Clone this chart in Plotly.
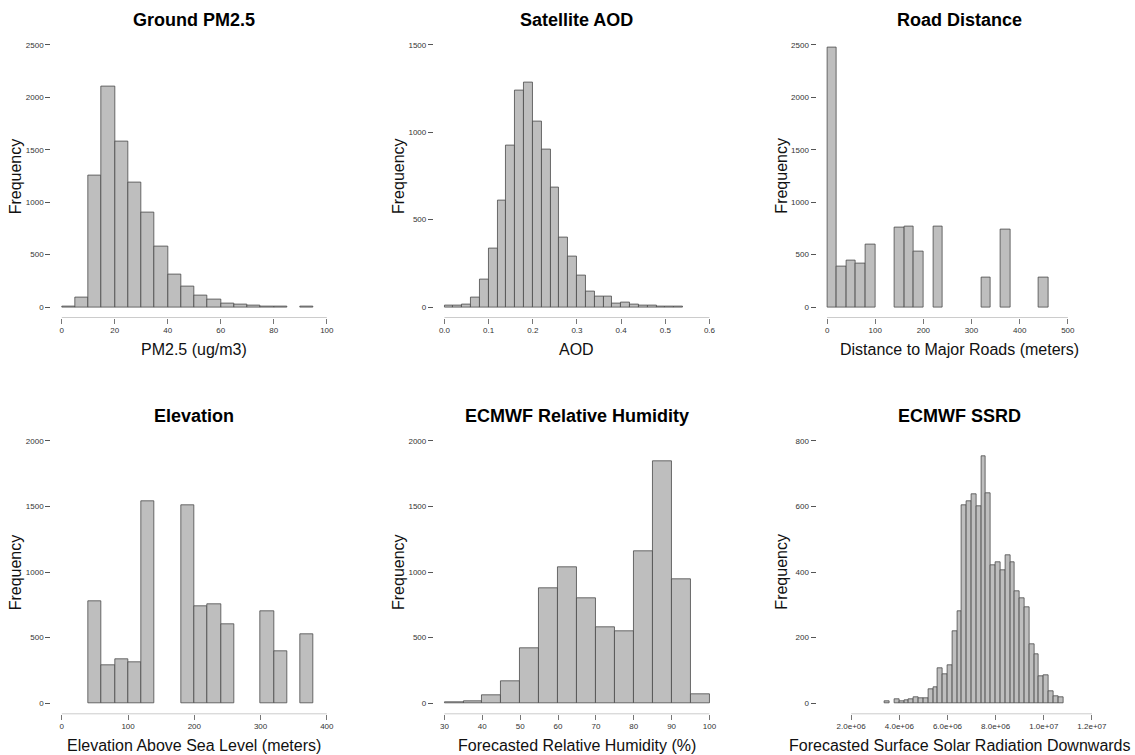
import plotly.graph_objects as go
import numpy as np

# ---------------- data (bin left edges / width / counts) ----------------
pm25_start, pm25_width = 0, 5
pm25_counts = [5, 90, 1258, 2108, 1576, 1185, 904, 575, 309, 197, 108, 68, 30, 20, 10, 5, 5, 0, 5]

aod_start, aod_width = 0.0, 0.02
aod_counts = [6, 10, 13, 57, 156, 333, 608, 926, 1242, 1286, 1061, 903, 682, 400, 290, 179,
              90, 61, 61, 19, 27, 17, 10, 8, 4, 4, 4]

road_start, road_width = 0, 20
road_counts = [2478, 385, 445, 415, 598, 0, 0, 754, 773, 525, 0, 773, 0, 0, 0, 0, 283, 0, 735,
               0, 0, 0, 283]

elev_start, elev_width = 40, 20
elev_counts = [779, 287, 338, 310, 1543, 0, 0, 1510, 736, 756, 601, 0, 0, 698, 396, 0, 528]

rh_start, rh_width = 30, 5
rh_counts = [8, 13, 63, 170, 419, 876, 1036, 797, 576, 551, 1157, 1845, 944, 69]

ssrd_start, ssrd_width = 3.4e6, 2e5
ssrd_counts = [5, 0, 12, 7, 10, 14, 19, 17, 16, 43, 49, 107, 88, 116, 220, 282, 604, 617, 637,
               600, 754, 640, 422, 431, 404, 450, 431, 343, 319, 293, 180, 151, 82, 85, 37, 21, 20]

titles = ["Ground PM2.5", "Satellite AOD", "Road Distance",
          "Elevation", "ECMWF Relative Humidity", "ECMWF SSRD"]
xlabels = ["PM2.5 (ug/m3)", "AOD", "Distance to Major Roads (meters)",
           "Elevation Above Sea Level (meters)", "Forecasted Relative Humidity (%)",
           "Forecasted Surface Solar Radiation Downwards"]

x_ticks = [
    [0, 20, 40, 60, 80, 100],
    [0.0, 0.1, 0.2, 0.3, 0.4, 0.5, 0.6],
    [0, 100, 200, 300, 400, 500],
    [0, 100, 200, 300, 400],
    [30, 40, 50, 60, 70, 80, 90, 100],
    [2e6, 4e6, 6e6, 8e6, 1e7, 1.2e7],
]
x_ticktext = [
    ["0", "20", "40", "60", "80", "100"],
    ["0.0", "0.1", "0.2", "0.3", "0.4", "0.5", "0.6"],
    ["0", "100", "200", "300", "400", "500"],
    ["0", "100", "200", "300", "400"],
    ["30", "40", "50", "60", "70", "80", "90", "100"],
    ["2.0e+06", "4.0e+06", "6.0e+06", "8.0e+06", "1.0e+07", "1.2e+07"],
]
y_ticks = [
    [0, 500, 1000, 1500, 2000, 2500],
    [0, 500, 1000, 1500],
    [0, 500, 1000, 1500, 2000, 2500],
    [0, 500, 1000, 1500, 2000],
    [0, 500, 1000, 1500, 2000],
    [0, 200, 400, 600, 800],
]
# xlim / ylim as in the original R plots (extended by 4% below)
xlims = [(0, 100), (0, 0.6), (0, 550), (0, 400), (30, 100), (1e6, 1.2e7)]
ylims = [(0, 2500), (0, 1500), (0, 2500), (0, 2000), (0, 2000), (0, 800)]

hists = [
    (pm25_start, pm25_width, pm25_counts),
    (aod_start, aod_width, aod_counts),
    (road_start, road_width, road_counts),
    (elev_start, elev_width, elev_counts),
    (rh_start, rh_width, rh_counts),
    (ssrd_start, ssrd_width, ssrd_counts),
]

# ---------------- layout geometry ----------------
W, H = 1135, 755
col_px = [(51.4, 338.6), (435.4, 722.6), (819.4, 1106.4)]
row_px = [(34.5, 317.5), (430.2, 713.8)]

BAR_FILL = "#BEBEBE"
BAR_LINE = "#4a4a4a"
FONT = "Liberation Sans, Arial, sans-serif"

fig = go.Figure()
layout = dict(
    width=W, height=H,
    margin=dict(l=0, r=0, t=0, b=0),
    paper_bgcolor="white", plot_bgcolor="white",
    showlegend=False, bargap=0,
    font=dict(family=FONT, color="#222"),
)
annotations = []
shapes = []

for i in range(6):
    r, c = divmod(i, 3)
    ax = "" if i == 0 else str(i + 1)
    start, width, counts = hists[i]
    counts = np.array(counts, dtype=float)
    lefts = start + width * np.arange(len(counts))
    keep = counts > 0
    fig.add_trace(go.Bar(
        x=lefts[keep] + width / 2, y=counts[keep], width=width,
        marker=dict(color=BAR_FILL, line=dict(color=BAR_LINE, width=0.8)),
        xaxis="x" + ax, yaxis="y" + ax, hoverinfo="x+y",
    ))
    x0, x1 = col_px[c]
    y0, y1 = row_px[r]
    xl, yl = xlims[i], ylims[i]
    dx = (xl[1] - xl[0]) * 0.04
    dy = (yl[1] - yl[0]) * 0.04
    layout["xaxis" + ax] = dict(
        domain=[x0 / W, x1 / W], anchor="y" + ax,
        range=[xl[0] - dx, xl[1] + dx],
        tickvals=x_ticks[i], ticktext=x_ticktext[i],
        ticks="outside", ticklen=5, tickwidth=1, tickcolor="#777",
        showline=False, showgrid=False, zeroline=False,
        tickfont=dict(size=8, color="#333"),
    )
    layout["yaxis" + ax] = dict(
        domain=[1 - y1 / H, 1 - y0 / H], anchor="x" + ax,
        range=[yl[0] - dy, yl[1] + dy],
        tickvals=y_ticks[i], ticktext=[str(v) for v in y_ticks[i]],
        ticks="outside", ticklen=5, tickwidth=1, tickcolor="#555",
        showline=False, showgrid=False, zeroline=False,
        tickfont=dict(size=8, color="#333"),
    )
    # R-style axis line spanning first to last tick
    shapes.append(dict(
        type="line", xref="x" + ax, yref="y" + ax + " domain",
        x0=x_ticks[i][0], x1=x_ticks[i][-1], y0=0, y1=0,
        line=dict(color="#cccccc", width=1),
    ))
    cx = (x0 + x1) / 2
    annotations.append(dict(
        text="<b>" + titles[i] + "</b>", x=cx / W, y=1 - (y0 - 14.5) / H,
        xref="paper", yref="paper", showarrow=False,
        xanchor="center", yanchor="middle",
        font=dict(size=18, color="#000", family=FONT),
    ))
    annotations.append(dict(
        text=xlabels[i], x=cx / W, y=1 - (y1 + 31.5) / H,
        xref="paper", yref="paper", showarrow=False,
        xanchor="center", yanchor="middle",
        font=dict(size=16, color="#111", family=FONT),
    ))
    annotations.append(dict(
        text="Frequency", x=(x0 - 36) / W, y=1 - ((y0 + y1) / 2) / H,
        xref="paper", yref="paper", showarrow=False, textangle=-90,
        xanchor="center", yanchor="middle",
        font=dict(size=16, color="#111", family=FONT),
    ))

layout["annotations"] = annotations
layout["shapes"] = shapes
fig.update_layout(**layout)
fig.write_html(
    "out.html",
    config={"displayModeBar": False},
    post_script="document.body.style.margin='0';document.body.style.padding='0';",
)
